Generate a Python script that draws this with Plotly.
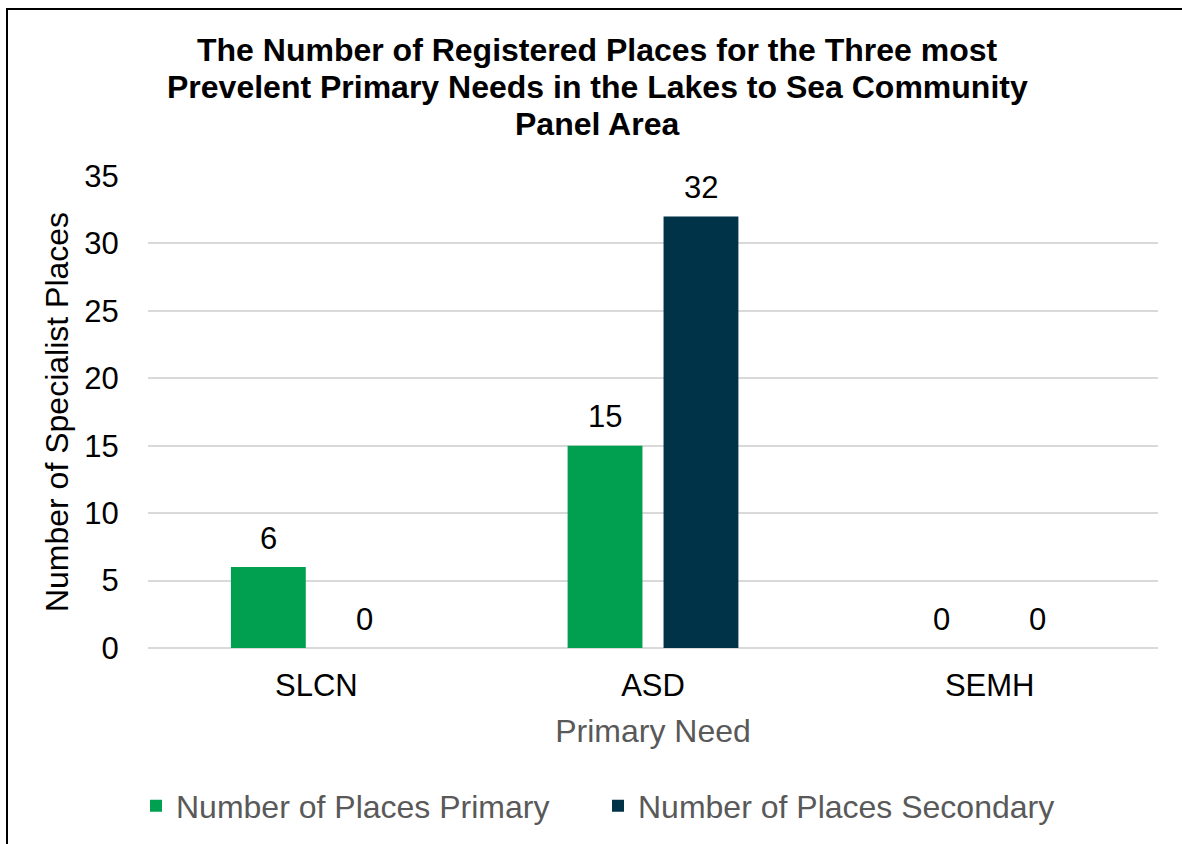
import plotly.graph_objects as go

# categories and values
needs = ["SLCN", "ASD", "SEMH"]
places_primary = [6, 15, 0]
places_secondary = [0, 32, 0]
y_ticks = [0, 5, 10, 15, 20, 25, 30, 35]
title_lines = [
    "The Number of Registered Places for the Three most",
    "Prevelent Primary Needs in the Lakes to Sea Community",
    "Panel Area",
]

font_name = "Liberation Sans, Arial, sans-serif"

# plot area in pixels (matches the reference)
plot_left, plot_right, plot_top, plot_bottom = 148, 1158, 176, 648
plot_w = plot_right - plot_left
plot_h = plot_bottom - plot_top


def px_to_paper_y(y):
    return (plot_bottom - y) / plot_h


def px_to_paper_x(x):
    return (x - plot_left) / plot_w


fig = go.Figure()
fig.add_trace(go.Bar(
    x=needs, y=places_primary, name="Number of Places Primary",
    marker_color="#00A050", marker_line_width=0,
))
fig.add_trace(go.Bar(
    x=needs, y=places_secondary, name="Number of Places Secondary",
    marker_color="#003347", marker_line_width=0,
))

# data labels above each bar (both series, zeros included)
for i, need in enumerate(needs):
    for vals, shift in ((places_primary, -48), (places_secondary, 48)):
        fig.add_annotation(
            x=need, y=vals[i], xref="x", yref="y",
            text=str(vals[i]), showarrow=False,
            xshift=shift, yshift=29, yanchor="middle",
            font=dict(size=31, color="#000000"),
        )

# title, one line per annotation to get the tighter line spacing
for line, y in zip(title_lines, (50, 87, 124)):
    fig.add_annotation(
        x=px_to_paper_x(597), y=px_to_paper_y(y), xref="paper", yref="paper",
        text="<b>" + line + "</b>", showarrow=False,
        xanchor="center", yanchor="middle",
        font=dict(size=32, color="#000000"),
    )

fig.update_layout(
    width=1182,
    height=844,
    font_family=font_name,
    paper_bgcolor="white",
    plot_bgcolor="white",
    margin=dict(l=plot_left, r=1182 - plot_right, t=plot_top,
                b=844 - plot_bottom, autoexpand=False),
    barmode="group",
    bargap=0.43,
    bargroupgap=0.22,
    legend=dict(
        orientation="h",
        x=px_to_paper_x(136), xanchor="left",
        y=px_to_paper_y(806), yanchor="middle",
        font=dict(size=32, color="#595959"),
        itemwidth=30,
        entrywidth=417,
    ),
    showlegend=True,
)

fig.update_xaxes(
    showgrid=False, showline=False,
    ticks="outside", ticklen=10, tickcolor="rgba(0,0,0,0)",
    tickfont=dict(size=31, color="#000000"),
    title=dict(text="Primary Need", font=dict(size=32, color="#595959"),
               standoff=17),
)
fig.update_yaxes(
    range=[0, 35], tickvals=y_ticks,
    showgrid=True, gridcolor="#D9D9D9", gridwidth=2,
    zeroline=True, zerolinecolor="#D9D9D9", zerolinewidth=2,
    showline=False,
    ticks="outside", ticklen=22, tickcolor="rgba(0,0,0,0)",
    tickfont=dict(size=31, color="#000000"),
    title=dict(text="Number of Specialist Places",
               font=dict(size=32, color="#000000"), standoff=6),
)

# outer chart border, cut off at the right and bottom edges
fig.add_shape(
    type="rect", xref="paper", yref="paper",
    x0=px_to_paper_x(7), x1=px_to_paper_x(1300),
    y0=px_to_paper_y(950), y1=px_to_paper_y(9),
    line=dict(color="#000000", width=2),
    fillcolor="rgba(0,0,0,0)",
    layer="above",
)

# drop the browser's default page margin so the figure sits at 0,0
fig.write_html("out.html", config={"displayModeBar": False},
               post_script="document.body.style.margin='0px';")
